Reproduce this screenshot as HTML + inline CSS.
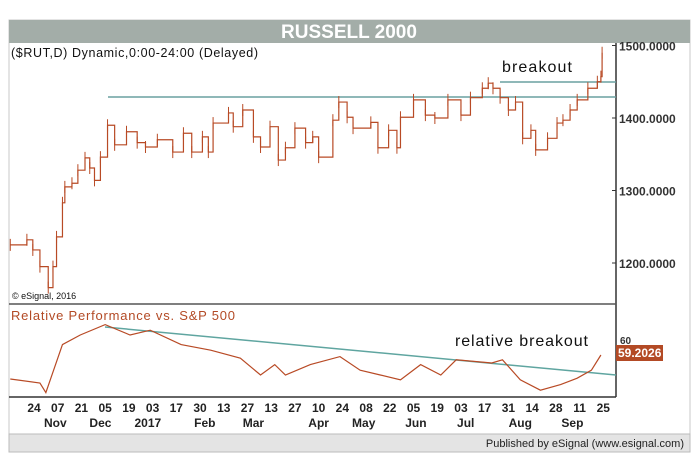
<!DOCTYPE html>
<html><head><meta charset="utf-8"><style>
html,body{margin:0;padding:0;background:#fff;}
svg{display:block;font-family:"Liberation Sans",Arial,sans-serif;}
</style></head><body>
<svg id="chart" width="700" height="465" viewBox="0 0 700 465">
  <rect x="9" y="20" width="681" height="432" fill="#fff" stroke="#c8c8c8"/>
  <rect x="9" y="20" width="681" height="23" fill="#a3ada8"/>
  <text x="349" y="38" text-anchor="middle" font-size="19" font-weight="bold" fill="#fff">RUSSELL 2000</text>
  <line x1="616" y1="43" x2="616" y2="397" stroke="#333" stroke-width="1.5"/>
  <line x1="9" y1="304" x2="616" y2="304" stroke="#555" stroke-width="1.5"/>
  <line x1="9" y1="397" x2="616" y2="397" stroke="#333" stroke-width="1.5"/>
  <rect x="9" y="434" width="681" height="18" fill="#e4e4e4" stroke="#bbb"/>
  <text x="684" y="447" text-anchor="end" font-size="11" fill="#222">Published by eSignal (www.esignal.com)</text>
  <text x="11" y="57" font-size="12.5" fill="#111" textLength="247">($RUT,D) Dynamic,0:00-24:00 (Delayed)</text>
  <text x="12" y="299" font-size="9" fill="#111">© eSignal, 2016</text>
  <text x="11" y="320" font-size="13" fill="#b34a25" textLength="224">Relative Performance vs. S&amp;P 500</text>
  <text x="502" y="72" font-size="16" fill="#111" textLength="70">breakout</text>
  <text x="455" y="346" font-size="16" fill="#111" textLength="133">relative breakout</text>
  <line x1="108" y1="97" x2="616" y2="97" stroke="#6aa0a0" stroke-width="1.5"/>
  <line x1="500" y1="82" x2="616" y2="82" stroke="#6aa0a0" stroke-width="1.5"/>
  <line x1="105" y1="327" x2="616" y2="375" stroke="#5fa5a0" stroke-width="1.5"/>
  <g id="price"></g>
  <g id="rel"></g>
  <g id="axes"></g>
  <rect x="616" y="345" width="47" height="16" fill="#b34a25"/>
  <text x="618" y="357" font-size="12" font-weight="bold" fill="#fff">59.2026</text>
  <text x="620" y="344" font-size="10" font-weight="bold" fill="#333">60</text>
</svg>
<script>
const priceWeeks = [-2.0,-0.6,-0.1,0.5,1.2,1.6,1.9,2.4,2.6,3.2,3.7,4.3,4.7,5.1,5.6,6.2,6.8,7.8,8.7,9.4,10.4,11.7,12.6,13.3,14.2,14.7,15.1,16.4,16.8,17.6,18.5,19.1,19.9,20.6,21.2,22.0,22.9,23.5,24.0,25.2,25.7,26.4,26.9,28.4,29.0,29.9,30.6,30.9,32.0,33.0,33.8,34.9,36.0,36.8,37.8,38.3,38.7,39.3,40.0,40.6,41.2,41.9,42.3,43.3,44.1,44.6,45.2,45.8,46.7,47.5,47.8,47.9];
const priceValues = [1225,1232,1218,1195,1166,1195,1236,1283,1305,1310,1328,1345,1331,1314,1346,1390,1363,1381,1366,1360,1370,1353,1379,1353,1374,1353,1393,1407,1388,1411,1374,1360,1388,1342,1359,1386,1366,1374,1346,1397,1422,1401,1386,1394,1359,1383,1359,1401,1425,1404,1400,1425,1404,1428,1441,1448,1441,1428,1411,1422,1372,1383,1356,1372,1393,1397,1411,1425,1441,1450,1457,1490];
const relWeeks = [-2.0,0.5,1.0,2.4,3.9,6.0,8.1,9.8,12.4,14.9,17.4,19.1,20.3,21.2,23.3,25.8,27.5,29.2,30.9,32.6,34.3,35.6,38.6,39.5,41.0,42.7,44.4,45.8,47.0,47.8];
const relValues = [55.5,55.0,53.8,59.8,61.0,62.3,61.0,61.6,59.8,59.1,58.1,56.0,57.3,56.0,57.3,58.3,56.6,56.0,55.4,57.3,56.0,57.9,57.5,57.9,55.4,54.1,54.8,55.6,56.6,58.5];
const priceTicks = [1500,1400,1300,1200];
const priceTickLabels = ["1500.0000","1400.0000","1300.0000","1200.0000"];
const dayLabels = ["24","07","21","05","19","03","17","30","13","27","13","27","10","24","08","22","05","19","03","17","31","14","28","11","25"];
const monthLabels = ["Nov","Dec","2017","Feb","Mar","Apr","May","Jun","Jul","Aug","Sep"];
const monthWeeks = [1.8,5.6,9.6,14.4,18.5,24.0,27.8,32.2,36.4,41.0,45.4];

const NS="http://www.w3.org/2000/svg";
const xw = w => 34 + w*11.86;
const yp = v => 118 - (v-1400)*0.725;
const yr = v => 343 - (v-60)*8;

function mk(tag, attrs, parent){const e=document.createElementNS(NS,tag);for(const k in attrs)e.setAttribute(k,attrs[k]);parent.appendChild(e);return e;}

const pg=document.getElementById('price');
let d='';
priceWeeks.forEach((w,i)=>{const x=xw(w),y=yp(priceValues[i]);d+= i===0?`M${x},${y}`:`H${x}V${y}`;});
const pl=mk('path',{d:d,fill:'none',stroke:'#b84a25','stroke-width':1.2},pg);


priceWeeks.forEach((w,i)=>{
  const b=mk('line',{x1:xw(w),x2:xw(w),y1:yp(priceValues[i])-6,y2:yp(priceValues[i])+6,stroke:'#b84a25','stroke-width':1},pg);
  
  
});

const rg=document.getElementById('rel');
const rl=mk('polyline',{points:relWeeks.map((w,i)=>xw(w)+','+yr(relValues[i])).join(' '),fill:'none',stroke:'#b84a25','stroke-width':1.2},rg);



const ag=document.getElementById('axes');
priceTicks.forEach((v,i)=>{
  const t=mk('text',{x:619,y:yp(v)+5,'font-size':12,'font-weight':'bold',fill:'#333'},ag);
  t.textContent=priceTickLabels[i];
  
  
  const tk=mk('line',{x1:612,x2:616,y1:yp(v),y2:yp(v),stroke:'#333'},ag);
  
  
});
dayLabels.forEach((s,i)=>{
  const t=mk('text',{x:xw(i*2),y:412,'font-size':12,'font-weight':'bold','text-anchor':'middle',fill:'#222'},ag);
  t.textContent=s;
  
  
});
monthLabels.forEach((s,i)=>{
  const t=mk('text',{x:xw(monthWeeks[i]),y:427,'font-size':12,'font-weight':'bold','text-anchor':'middle',fill:'#222'},ag);
  t.textContent=s;
  
  
});
</script>
</body></html>
